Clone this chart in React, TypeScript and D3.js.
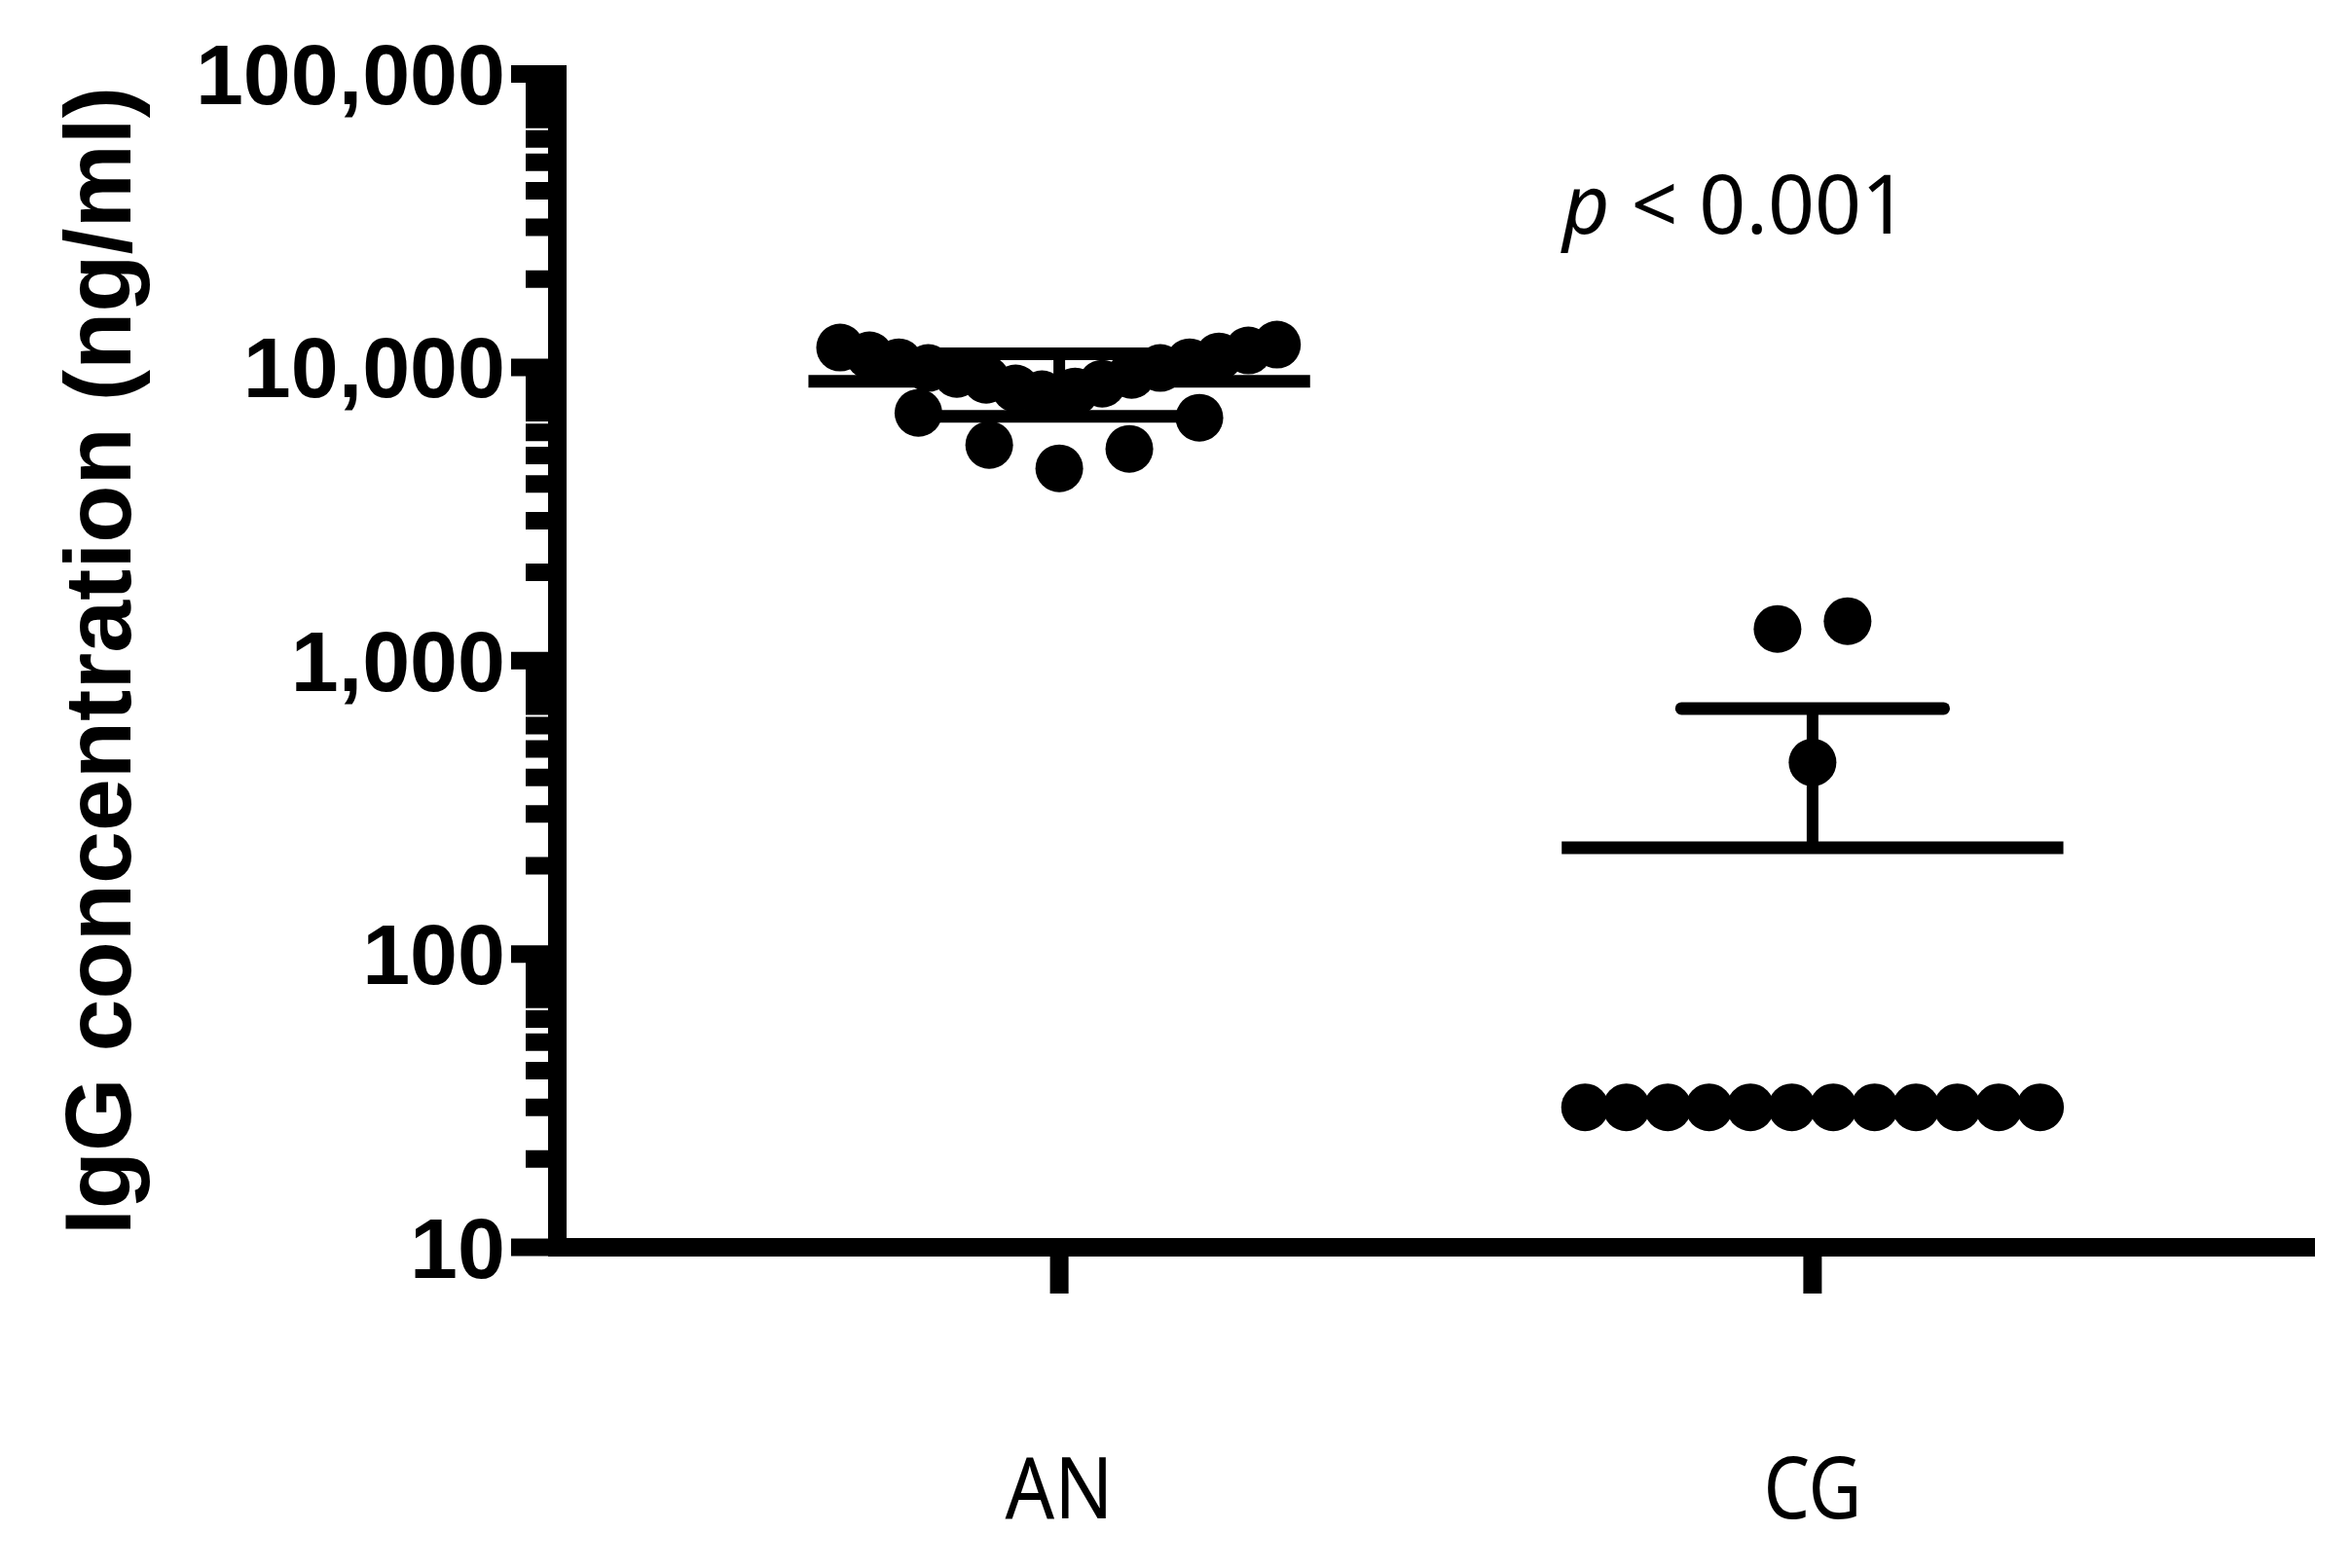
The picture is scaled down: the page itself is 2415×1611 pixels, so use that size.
import React from "react";
import * as d3 from "d3";

const categories = ["AN", "CG"];

// AN group values (ng/ml) and horizontal spread (fraction of category step)
const anValues = [
  11675, 10982, 10409, 9943, 9497, 9071, 8469, 8090,
  11944, 11412, 10897, 10409, 9943, 9425, 8798, 8275,
  6995, 5436, 4525, 5272, 6731,
];
const anJitter = [
  -0.291, -0.252, -0.213, -0.174, -0.136, -0.097, -0.058, -0.023,
  0.289, 0.251, 0.212, 0.173, 0.134, 0.096, 0.057, 0.021,
  -0.187, -0.093, 0, 0.093, 0.186,
];

// CG group values (ng/ml) and spread
const cgValues = [30, 30, 30, 30, 30, 30, 30, 30, 30, 30, 30, 30, 1282, 1363, 450];
const cgJitter = [
  -0.302, -0.2471, -0.1922, -0.1373, -0.0824, -0.0275,
  0.0275, 0.0824, 0.1373, 0.1922, 0.2471, 0.302,
  -0.0465, 0.0465, 0,
];

const yTickValues = [10, 100, 1000, 10000, 100000];
const yTickLabels = ["10", "100", "1,000", "10,000", "100,000"];
const yTitle = "IgG concentration (ng/ml)";
const pLabel = "p";
const pRest = " < 0.001";

const W = 2415;
const H = 1611;

export default function App() {
  const y = d3.scaleLog().domain([10, 100000]).range([1281.5, 76]);
  const x = d3.scaleLinear().domain([-0.667, 1.667]).range([572, 2378]);
  const step = x(1) - x(0);

  const groups = [
    { name: categories[0], values: anValues, jitter: anJitter },
    { name: categories[1], values: cgValues, jitter: cgJitter },
  ];

  const minor = y.ticks().filter((t) => !yTickValues.includes(t));

  const axisX = 572.5;
  const axisY = 1281.5;
  const lw = 19;

  return (
    <svg
      width={W}
      height={H}
      style={{ position: "absolute", left: 0, top: 0, background: "#fff" }}
    >
      <rect x={0} y={0} width={W} height={H} fill="#fff" />

      {/* points */}
      {groups.map((g, gi) =>
        g.values.map((v, i) => (
          <circle
            key={`${gi}-${i}`}
            cx={x(gi + g.jitter[i])}
            cy={y(v)}
            r={24.5}
            fill="#000"
          />
        ))
      )}

      {/* mean ± SD */}
      {groups.map((g, gi) => {
        const m = d3.mean(g.values) as number;
        const sd = d3.deviation(g.values) as number;
        const cx = x(gi);
        const hi = m + sd;
        const lo = m - sd;
        const capHalf = 0.174 * step;
        const meanHalf = 0.333 * step;
        const hasLo = lo > 10;
        return (
          <g key={`stat-${gi}`}>
            <line
              x1={cx}
              x2={cx}
              y1={y(hi)}
              y2={hasLo ? y(lo) : y(m)}
              stroke="#000"
              strokeWidth={12}
              strokeLinecap="round"
            />
            <line
              x1={cx - capHalf}
              x2={cx + capHalf}
              y1={y(hi)}
              y2={y(hi)}
              stroke="#000"
              strokeWidth={13}
              strokeLinecap="round"
            />
            {hasLo && (
              <line
                x1={cx - capHalf}
                x2={cx + capHalf}
                y1={y(lo)}
                y2={y(lo)}
                stroke="#000"
                strokeWidth={13}
                strokeLinecap="round"
              />
            )}
            <line
              x1={cx - meanHalf}
              x2={cx + meanHalf}
              y1={y(m)}
              y2={y(m)}
              stroke="#000"
              strokeWidth={13}
            />
          </g>
        );
      })}

      {/* y axis */}
      <line x1={axisX} x2={axisX} y1={67} y2={axisY + lw / 2} stroke="#000" strokeWidth={lw} />
      {minor.map((t) => (
        <line key={`mn-${t}`} x1={540} x2={axisX} y1={y(t)} y2={y(t)} stroke="#000" strokeWidth={18} />
      ))}
      {yTickValues.map((t, i) => (
        <g key={`mj-${t}`}>
          <line x1={525} x2={axisX} y1={y(t)} y2={y(t)} stroke="#000" strokeWidth={18} />
          <text
            x={519}
            y={y(t) + 31}
            textAnchor="end"
            fontFamily="'Liberation Sans', Arial, sans-serif"
            fontWeight="bold"
            fontSize={88}
            fill="#000"
          >
            {yTickLabels[i]}
          </text>
        </g>
      ))}

      {/* x axis */}
      <line x1={563} x2={2378} y1={axisY} y2={axisY} stroke="#000" strokeWidth={lw} />
      {categories.map((c, i) => (
        <g key={`xc-${c}`}>
          <line x1={x(i)} x2={x(i)} y1={axisY} y2={1329} stroke="#000" strokeWidth={19} />
          <text
            x={x(i)}
            y={1560}
            textAnchor="middle"
            fontFamily="'Noto Sans', 'Open Sans', sans-serif"
            fontSize={88}
            fill="#000"
            textLength={i === 0 ? 111 : 101}
            lengthAdjust="spacingAndGlyphs"
          >
            {c}
          </text>
        </g>
      ))}

      {/* y title */}
      <text
        x={134}
        y={679}
        transform="rotate(-90, 134, 679)"
        textAnchor="middle"
        fontFamily="'Liberation Sans', Arial, sans-serif"
        fontWeight="bold"
        fontSize={97}
        fill="#000"
      >
        {yTitle}
      </text>

      {/* p value */}
      <text
        x={1605}
        y={240}
        fontFamily="'Noto Sans', 'Open Sans', sans-serif"
        fontSize={84}
        fill="#000"
      >
        <tspan fontStyle="italic">{pLabel}</tspan>
        <tspan>{pRest}</tspan>
      </text>
    </svg>
  );
}
